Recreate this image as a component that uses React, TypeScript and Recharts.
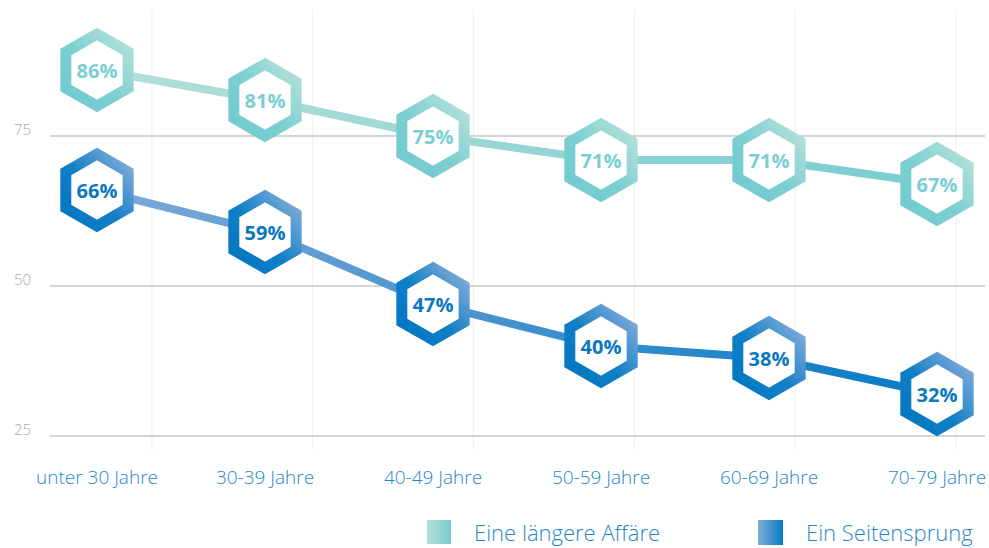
import React from 'react';
import { LineChart, Line, XAxis, YAxis, CartesianGrid, Legend } from 'recharts';

const ageGroups = ['unter 30 Jahre', '30-39 Jahre', '40-49 Jahre', '50-59 Jahre', '60-69 Jahre', '70-79 Jahre'];
const laengereAffaere = [86, 81, 75, 71, 71, 67];
const seitensprung = [66, 59, 47, 40, 38, 32];
const yTicks = [25, 50, 75];
const gridTicks = [1, 2, 3, 4, 5, 6];

const data = ageGroups.map((name, i) => ({
  name,
  slot: i + 1,
  affaere: laengereAffaere[i],
  seitensprung: seitensprung[i],
}));

const FONT = '"Open Sans", "Noto Sans", sans-serif';

const hexPoints = (cx: number, cy: number, r: number) => {
  const pts: string[] = [];
  for (let k = 0; k < 6; k++) {
    const a = ((-90 + 60 * k) * Math.PI) / 180;
    pts.push(`${cx + r * Math.cos(a)},${cy + r * Math.sin(a)}`);
  }
  return pts.join(' ');
};

const makeHex = (gradId: string, textColor: string) => (props: any) => {
  const { cx, cy, value, index } = props;
  if (cx == null || cy == null) return <g key={index} />;
  return (
    <g key={`${gradId}-${index}`}>
      <polygon
        points={hexPoints(cx, cy, 36)}
        fill="#fff"
        stroke={`url(#${gradId})`}
        strokeWidth={11}
        strokeLinejoin="miter"
      />
      <text
        x={cx}
        y={cy}
        textAnchor="middle"
        dominantBaseline="central"
        fill={textColor}
        fontFamily={FONT}
        fontWeight={700}
        fontSize={20}
      >
        {value}%
      </text>
    </g>
  );
};

const LegendContent = () => (
  <div style={{ display: 'flex', alignItems: 'center', marginTop: 17, fontFamily: FONT, fontWeight: 300, fontSize: 22, color: '#1f87c9' }}>
    <div style={{ display: 'flex', alignItems: 'center', marginLeft: 427, width: 331 }}>
      <span style={{ width: 24, height: 24, background: 'linear-gradient(90deg, #b5e1d9, #76cdd1)', marginRight: 23 }} />
      <span>Eine längere Affäre</span>
    </div>
    <div style={{ display: 'flex', alignItems: 'center' }}>
      <span style={{ width: 25, height: 25, background: 'linear-gradient(90deg, #82acd9, #0479c2)', marginRight: 23 }} />
      <span>Ein Seitensprung</span>
    </div>
  </div>
);

export default function App() {
  return (
    <div style={{ width: 989, height: 548, background: '#fff' }}>
      <style>{`body{margin:0}`}</style>
      <LineChart width={989} height={548} data={data} margin={{ top: 10, right: 4, left: 0, bottom: 0 }}>
        <defs>
          <linearGradient id="hexTeal" x1="0" y1="1" x2="1" y2="0">
            <stop offset="0%" stopColor="#6fcad0" />
            <stop offset="45%" stopColor="#7ccfd1" />
            <stop offset="100%" stopColor="#b8e2da" />
          </linearGradient>
          <linearGradient id="hexBlue" x1="0" y1="1" x2="1" y2="0">
            <stop offset="0%" stopColor="#0076c0" />
            <stop offset="45%" stopColor="#117fc6" />
            <stop offset="100%" stopColor="#8aafda" />
          </linearGradient>
          <linearGradient id="lineTeal" x1="0" y1="0" x2="1" y2="0">
            <stop offset="0%" stopColor="#b4dfd8" />
            <stop offset="100%" stopColor="#78cdd1" />
          </linearGradient>
          <linearGradient id="lineBlue" x1="0" y1="0" x2="1" y2="0">
            <stop offset="0%" stopColor="#7ea8d8" />
            <stop offset="100%" stopColor="#057bc3" />
          </linearGradient>
        </defs>
        <CartesianGrid xAxisId="grid" horizontal={false} syncWithTicks stroke="#efefef" strokeWidth={1} />
        <CartesianGrid vertical={false} syncWithTicks stroke="#c6c6c6" strokeWidth={1.5} />
        <XAxis
          xAxisId="grid"
          dataKey="slot"
          type="number"
          domain={[0.366, 6.18]}
          ticks={gridTicks}
          allowDataOverflow
          hide
        />
        <XAxis
          dataKey="name"
          axisLine={false}
          tickLine={false}
          tickSize={0}
          tickMargin={21}
          height={50}
          padding={{ left: 47, right: 48 }}
          interval={0}
          tick={{ fill: '#1f87c9', fontSize: 19, fontFamily: FONT, fontWeight: 300 }}
        />
        <YAxis
          domain={[22.67, 96]}
          ticks={yTicks}
          allowDataOverflow
          axisLine={false}
          tickLine={false}
          tickSize={0}
          tickMargin={19}
          width={50}
          tick={{ fill: '#a9a9a9', fontSize: 15, fontFamily: FONT, fontWeight: 300, dy: -6 }}
        />
        <Legend verticalAlign="bottom" height={48} content={LegendContent} />
        <Line
          dataKey="affaere"
          xAxisId={0}
          stroke="url(#lineTeal)"
          strokeWidth={8}
          dot={makeHex('hexTeal', '#79cfd2')}
          activeDot={false}
          isAnimationActive={false}
        />
        <Line
          dataKey="seitensprung"
          xAxisId={0}
          stroke="url(#lineBlue)"
          strokeWidth={8}
          dot={makeHex('hexBlue', '#0a78c0')}
          activeDot={false}
          isAnimationActive={false}
        />
      </LineChart>
    </div>
  );
}
